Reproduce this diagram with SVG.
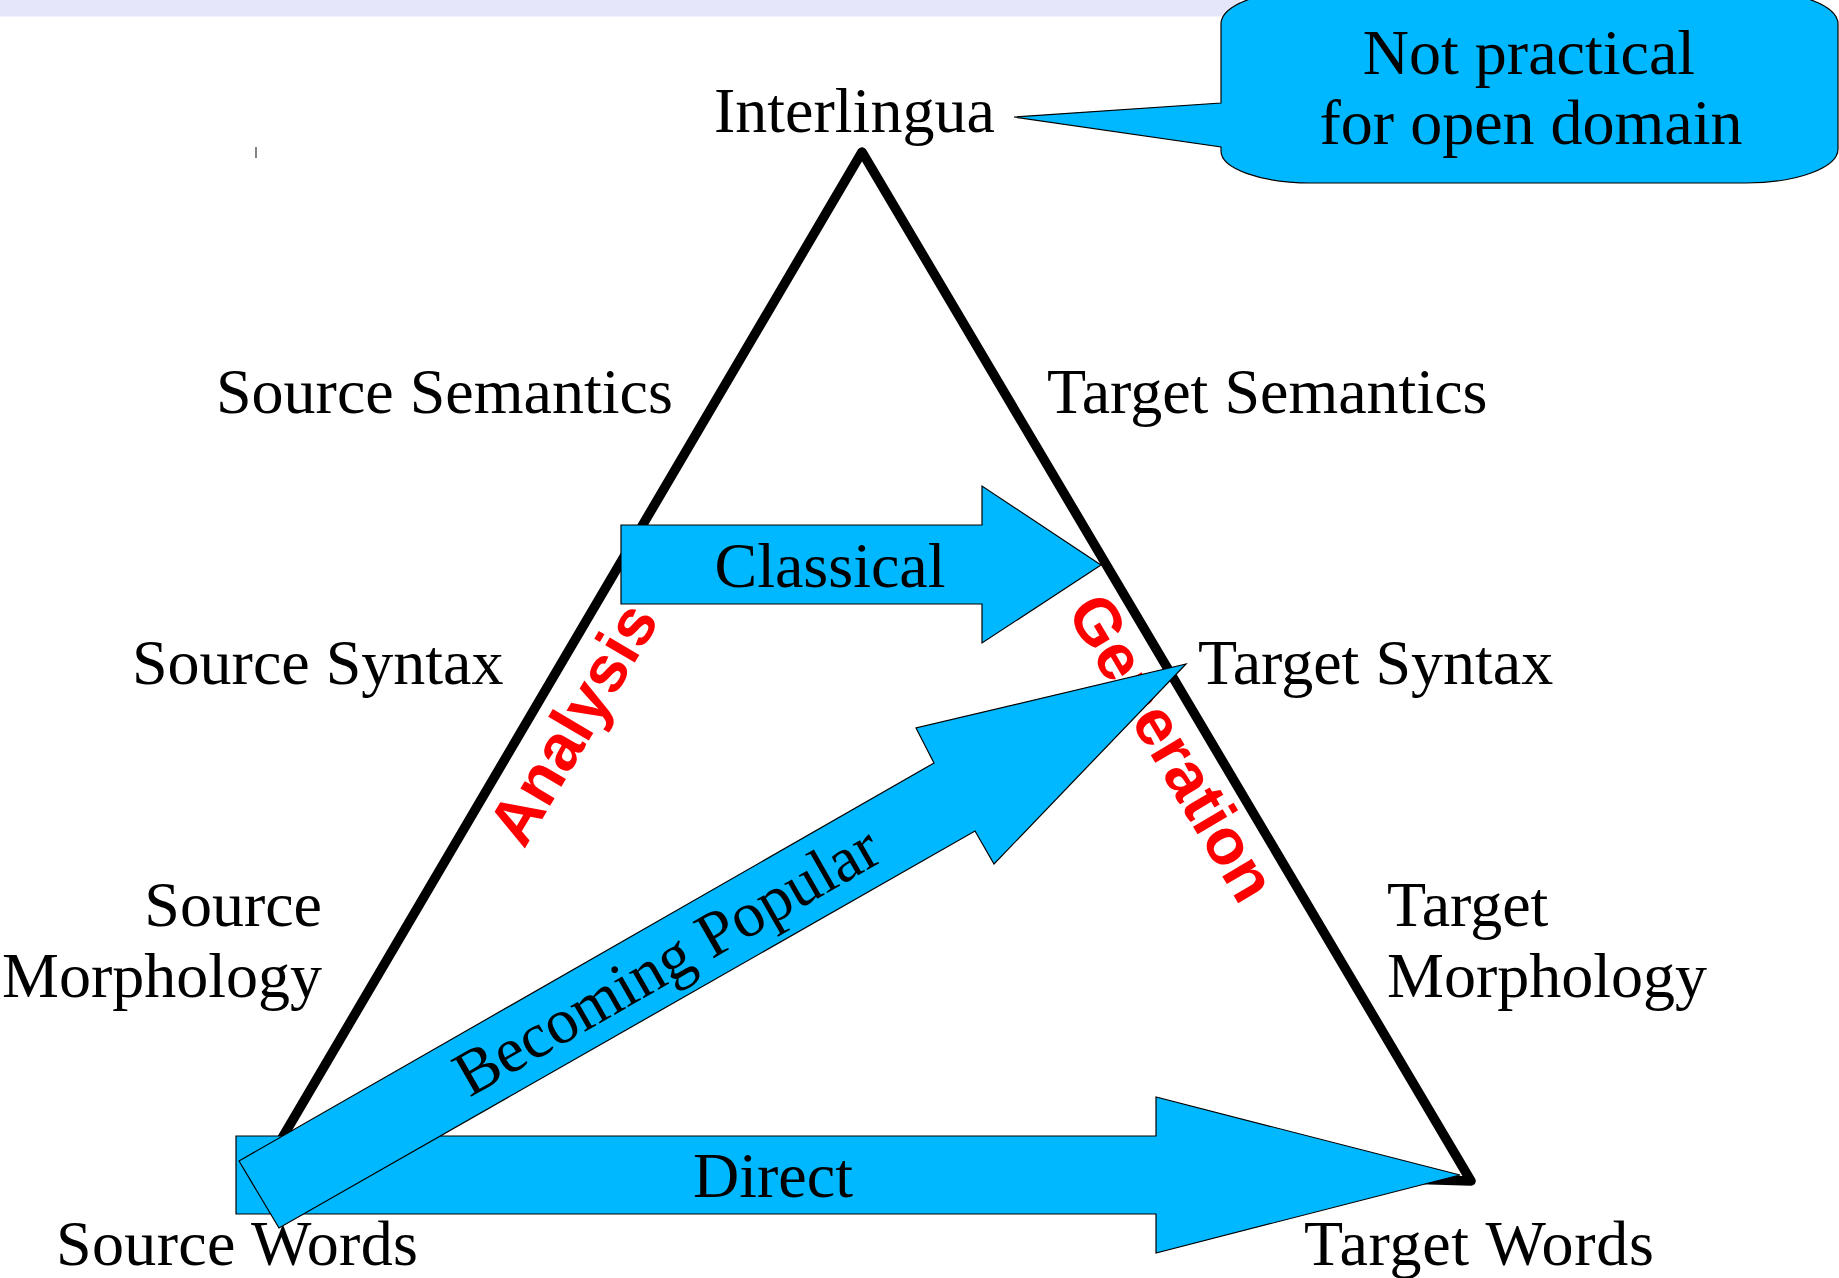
<svg xmlns="http://www.w3.org/2000/svg" width="1839" height="1278" viewBox="0 0 1839 1278">
<style>
.lbl{font-family:"Liberation Serif","Times New Roman",serif;font-size:64px;fill:#000}
.red{font-family:"Liberation Sans",Arial,sans-serif;font-weight:bold;font-size:65px;fill:#ff0000}
.blue{fill:#00b8ff;stroke:#000;stroke-width:1.2;stroke-linejoin:miter}
</style>
<rect width="1839" height="1278" fill="#fff"/>
<rect x="0" y="0" width="1240" height="16.5" fill="#e6e6fa"/>
<line x1="256" y1="147" x2="256" y2="158" stroke="#333" stroke-width="1.2"/>
<g id="triangle">
<polygon points="862,152 1471,1181 278,1145" fill="none" stroke="#000" stroke-width="9.5" stroke-linejoin="round"/>
</g>
<g id="analysis"><text class="red" text-anchor="middle" transform="translate(592,735) rotate(-59.4)">Analysis</text></g>
<g id="generation"><text class="red" text-anchor="middle" transform="translate(1153,759) rotate(59.4)">Generation</text></g>
<g id="callout">
<path class="blue" d="M1311,-10 H1746 A92 34 0 0 1 1838,24 V149 A92 34 0 0 1 1746,183 H1311 A90 32 0 0 1 1221,151 V147 L1014,117 L1221,103 V24 A90 34 0 0 1 1311,-10 Z"/>
<text class="lbl" x="1529" y="74" text-anchor="middle">Not practical</text>
<text class="lbl" x="1531" y="144" text-anchor="middle">for open domain</text>
</g>
<g id="interlingua"><text class="lbl" x="714" y="132">Interlingua</text></g>
<g id="source-semantics"><text class="lbl" x="216" y="413">Source Semantics</text></g>
<g id="target-semantics"><text class="lbl" x="1047" y="413">Target Semantics</text></g>
<g id="source-syntax"><text class="lbl" x="132" y="684">Source Syntax</text></g>
<g id="target-syntax"><text class="lbl" x="1198" y="684">Target Syntax</text></g>
<g id="source-morphology"><text class="lbl" text-anchor="end" x="322" y="926">Source</text><text class="lbl" text-anchor="end" x="322" y="997">Morphology</text></g>
<g id="target-morphology"><text class="lbl" x="1387" y="926">Target</text><text class="lbl" x="1387" y="997">Morphology</text></g>
<g id="source-words"><text class="lbl" x="56" y="1265" textLength="362">Source Words</text></g>
<g id="target-words"><text class="lbl" x="1304" y="1265" textLength="350">Target Words</text></g>
<g id="connectors">
<g id="classical">
<polygon class="blue" points="621,525 982,525 982,486 1101,565 982,643 982,604 621,604"/>
<text class="lbl" x="830" y="587" text-anchor="middle">Classical</text>
</g>
<g id="direct">
<polygon class="blue" points="236,1136 1156,1136 1156,1097 1460,1175 1156,1253 1156,1214 236,1214"/>
<text class="lbl" x="773" y="1197" text-anchor="middle">Direct</text>
</g>
<g id="becoming-popular">
<polygon class="blue" points="239,1161 934,763 916,728 1186,664 994,864 975,831 279,1228"/>
<text class="lbl" text-anchor="middle" transform="translate(677,979) rotate(-29.8)">Becoming Popular</text>
</g>
</g>
</svg>
